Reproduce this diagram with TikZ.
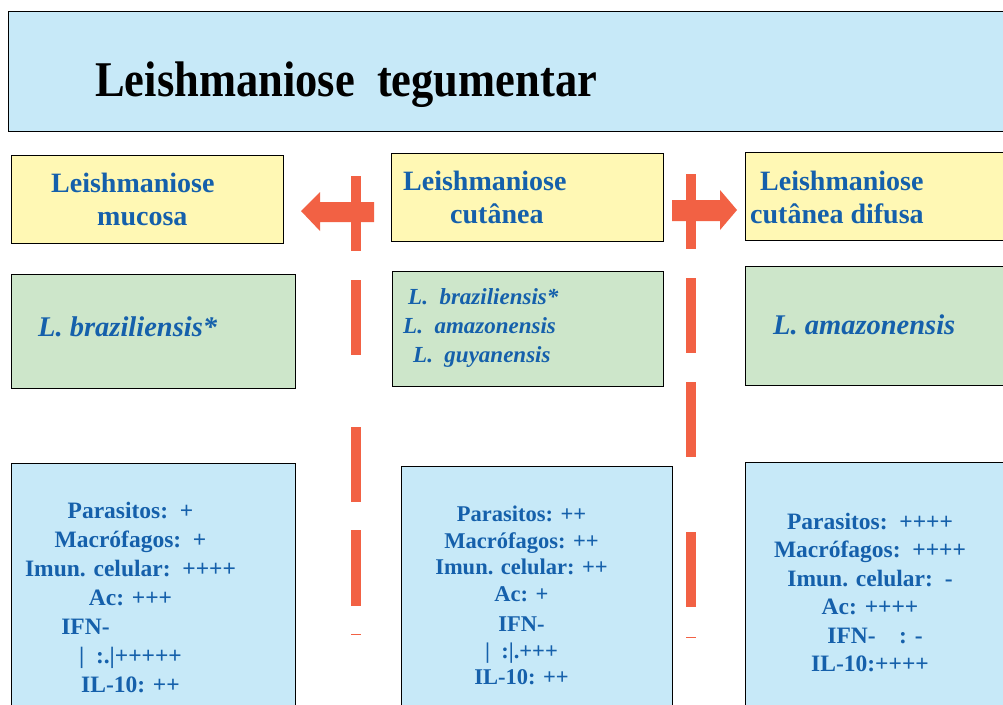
\documentclass[tikz,border=0pt]{standalone}
\usepackage{fontspec}
\setmainfont{Liberation Serif}
\definecolor{headblue}{HTML}{C7E9F8}
\definecolor{formyellow}{HTML}{FFF8B4}
\definecolor{specgreen}{HTML}{CDE6CA}
\definecolor{textblue}{HTML}{1560AB}
\definecolor{markred}{HTML}{F26144}
\tikzset{
    box/.style={draw=black, line width=1.2pt, anchor=north west, inner sep=0pt},
    headbox/.style={box, fill=headblue},
    formbox/.style={box, fill=formyellow},
    specbox/.style={box, fill=specgreen},
    databox/.style={box, fill=headblue},
    formtext/.style={text=textblue, font=\fontsize{28}{32.5}\selectfont\bfseries, align=left, anchor=north west, inner sep=0pt},
    spectext/.style={text=textblue, font=\fontsize{28.5}{32}\selectfont\bfseries\itshape, anchor=base west, inner sep=0pt},
    datatext/.style={text=textblue, font=\fontsize{23.5}{29}\selectfont\bfseries, align=center, anchor=north, inner sep=0pt},
    redmark/.style={fill=markred}
}
\begin{document}
\begin{tikzpicture}[x=1pt, y=-1pt]
    \clip (0,0) rectangle (1003,704);
    \fill[white] (0,0) rectangle (1003,704);

    % Title
    \node[headbox, minimum width=1010pt, minimum height=120pt] (head) at (8,11) {};
    \node[anchor=base west, inner sep=0pt, font=\fontsize{50}{54}\selectfont\bfseries] (headtext) at (95,96) {\scalebox{0.89}[1]{Leishmaniose\ \ tegumentar}};

    % Clinical forms
    \node[formbox, minimum width=272pt, minimum height=88pt] (mucosa) at (11,155) {};
    \node[formbox, minimum width=272pt, minimum height=88pt] (cutanea) at (391,153) {};
    \node[formbox, minimum width=270pt, minimum height=88pt] (difusa) at (745,152) {};
    \node[formtext] (mucosatext) at (51,173) {Leishmaniose\\\hspace*{46pt}mucosa};
    \node[formtext] (cutaneatext) at (403,171) {Leishmaniose\\\hspace*{47pt}cutânea};
    \node[formtext] (difusatext) at (750,171) {\hspace*{10pt}Leishmaniose\\cutânea difusa};

    % Species
    \node[specbox, minimum width=284pt, minimum height=114pt] (spmucosa) at (11,274) {};
    \node[specbox, minimum width=271pt, minimum height=115pt] (spcutanea) at (392,271) {};
    \node[specbox, minimum width=270pt, minimum height=119pt] (spdifusa) at (745,266) {};
    \node[spectext] (spmucosatext) at (38,336) {L. braziliensis*};
    \node[spectext, font=\fontsize{23}{29}\selectfont\bfseries\itshape, align=left, anchor=north west] (spcutaneatext) at (403,288) {\hspace*{5pt}L.\ \ braziliensis*\\L.\ \ amazonensis\\\hspace*{10pt}L.\ \ guyanensis};
    \node[spectext] (spdifusatext) at (773,334) {L. amazonensis};

    % Immune profile
    \node[databox, minimum width=284pt, minimum height=260pt] (immucosa) at (11,463) {};
    \node[databox, minimum width=271pt, minimum height=260pt] (imcutanea) at (401,466) {};
    \node[databox, minimum width=270pt, minimum height=260pt] (imdifusa) at (745,462) {};
    \node[datatext] (immucosatext) at (130.5,501.5) {Parasitos:\ \ +\\Macrófagos:\ \ +\\Imun. celular:\ \ ++++\\Ac: +++\\IFN-\hspace*{90pt}\null\\|\ \ :.|+++++\\IL-10: ++};
    \node[datatext, font=\fontsize{22.5}{26.5}\selectfont\bfseries] (imcutaneatext) at (521.5,506) {Parasitos: ++\\Macrófagos: ++\\Imun. celular: ++\\Ac: +\\[4pt]IFN-\\|\ \ :|.+++\\IL-10: ++};
    \node[datatext, font=\fontsize{23.5}{28.5}\selectfont\bfseries] (imdifusatext) at (870,512.5) {Parasitos:\ \ ++++\\Macrófagos:\ \ ++++\\Imun. celular:\ \ -\\Ac: ++++\\\hspace*{10pt}IFN-\ \ \ \ : -\\IL-10:++++};

    % Arrows and dividers
    \fill[redmark] (301,211) -- (320,192) -- (320,202) -- (374,202) -- (374,222) -- (320,222) -- (320,231) -- cycle;
    \fill[redmark] (672,200) -- (720,200) -- (720,190) -- (737,210) -- (720,230) -- (720,221) -- (672,221) -- cycle;
    \fill[redmark] (351,176) rectangle (361,251);
    \fill[redmark] (351,280) rectangle (361,355);
    \fill[redmark] (351,427) rectangle (361,502);
    \fill[redmark] (351,530) rectangle (361,606);
    \fill[redmark] (351,633.5) rectangle (361,635);
    \fill[redmark] (686,174) rectangle (696,249);
    \fill[redmark] (686,278) rectangle (696,353);
    \fill[redmark] (686,382) rectangle (696,457);
    \fill[redmark] (686,532) rectangle (696,607);
    \fill[redmark] (686,636.5) rectangle (696,638);
\end{tikzpicture}
\end{document}
